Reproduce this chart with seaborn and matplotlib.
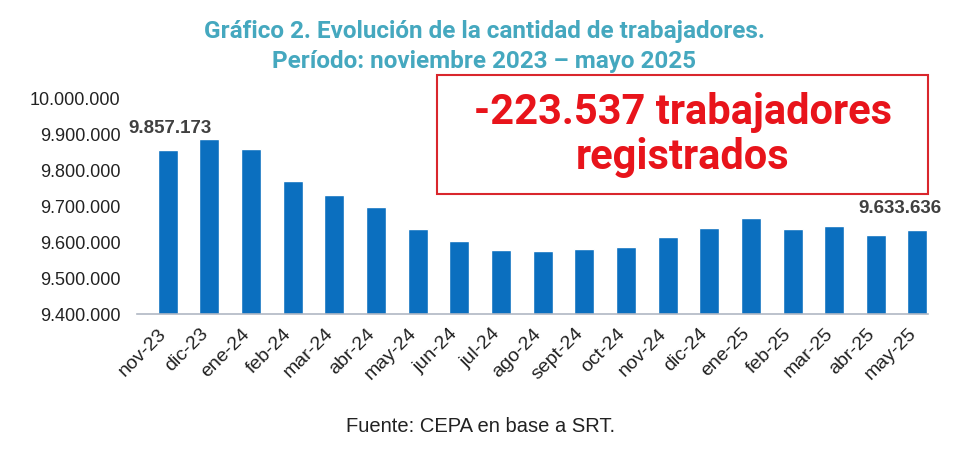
import seaborn as sns
import matplotlib.pyplot as plt
import pandas as pd
from matplotlib.ticker import FuncFormatter, FixedLocator
from matplotlib.patches import Rectangle

meses = ['nov-23', 'dic-23', 'ene-24', 'feb-24', 'mar-24', 'abr-24', 'may-24',
         'jun-24', 'jul-24', 'ago-24', 'sept-24', 'oct-24', 'nov-24', 'dic-24',
         'ene-25', 'feb-25', 'mar-25', 'abr-25', 'may-25']
trabajadores = [9857173, 9887000, 9859000, 9771000, 9732000, 9698000, 9638000,
                9604000, 9578000, 9575000, 9582000, 9588000, 9615000, 9641000,
                9669000, 9637000, 9646000, 9620000, 9633636]
titulo = 'Gráfico 2. Evolución de la cantidad de trabajadores.\nPeríodo: noviembre 2023 – mayo 2025'
cuadro = '-223.537 trabajadores\nregistrados'
fuente = 'Fuente: CEPA en base a SRT.'

df = pd.DataFrame({'mes': meses, 'valor': trabajadores})

sns.set_style('white')
plt.rcParams['font.family'] = ['Liberation Sans', 'DejaVu Sans']

fig = plt.figure(figsize=(9.68, 4.66), dpi=100)
ax = fig.add_axes([0.1415, 0.326, 0.8175, 0.462])

sns.barplot(data=df, x='mes', y='valor', color='#0B6FBF', width=0.48,
            saturation=1, ax=ax)

# como en excel: la barra ocupa la mitad derecha de cada categoria
desplazo = 0.24
for p in ax.patches:
    p.set_x(p.get_x() + desplazo)

ax.set_ylim(9400000, 10000000)
ax.set_xlim(-0.5, len(meses) - 0.5)
ax.yaxis.set_major_locator(FixedLocator(range(9400000, 10000001, 100000)))
ax.yaxis.set_major_formatter(FuncFormatter(lambda v, p: f'{int(v):,}'.replace(',', '.')))
ax.set_xlabel('')
ax.set_ylabel('')

for s in ['top', 'right', 'left']:
    ax.spines[s].set_visible(False)
ax.spines['bottom'].set_color('#B0B8C4')
ax.spines['bottom'].set_linewidth(1.2)

ax.tick_params(axis='y', length=0, labelsize=13, labelcolor='#222222', pad=12)
ax.tick_params(axis='x', which='major', length=0, labelsize=14, labelcolor='#222222', pad=8)
ax.set_xticks([i + 0.5 for i in range(-1, len(meses))], minor=True)
ax.tick_params(axis='x', which='minor', length=5, color='#B0B8C4', width=1)
plt.setp(ax.get_xticklabels(), rotation=45, ha='right', rotation_mode='anchor')

# etiquetas de primer y ultimo valor
for i, corr in [(0, 0.05), (len(meses) - 1, -0.41)]:
    ax.text(i + desplazo + corr, trabajadores[i] + 36000,
            f'{trabajadores[i]:,}'.replace(',', '.'),
            ha='center', va='bottom', fontsize=13.5, fontweight='bold', color='#404040')

fig.text(0.5, 0.9, titulo, ha='center', va='center', fontsize=17.5,
         fontweight='bold', color='#45A8BF', linespacing=1.35, family='Roboto')

fig.patches.append(Rectangle((437 / 968, 1 - 194 / 466), 491 / 968, 119 / 466,
                             transform=fig.transFigure, fill=False,
                             edgecolor='#D9262C', linewidth=1.5))
fig.text(683 / 968, 1 - 135 / 466, cuadro, ha='center', va='center', fontsize=30,
         fontweight='bold', color='#E8141B', linespacing=1.15, family='Roboto')

fig.text(0.496, 1 - 426 / 466, fuente, ha='center', va='center', fontsize=14.5,
         color='#222222')

fig.savefig('out.png', dpi=100)
